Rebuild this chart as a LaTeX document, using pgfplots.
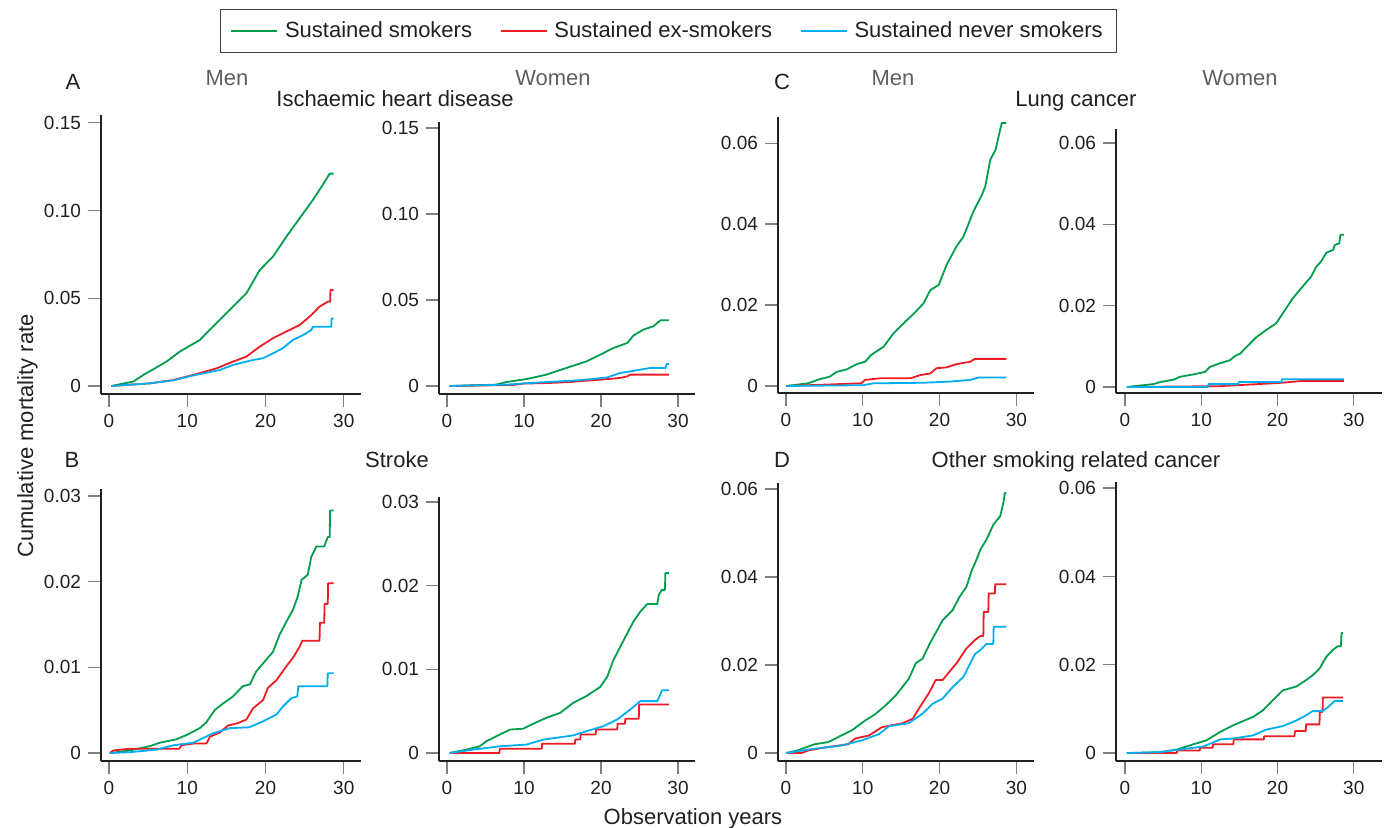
\documentclass[border=0pt]{standalone}
\usepackage{fontspec}
\setmainfont{Liberation Sans}
\usepackage{pgfplots}
\pgfplotsset{compat=1.18}

\definecolor{cg}{RGB}{0,157,78}
\definecolor{cr}{RGB}{237,28,36}
\definecolor{cb}{RGB}{0,174,239}
\definecolor{lbl}{RGB}{35,31,32}
\definecolor{sub}{RGB}{95,95,95}

\pgfplotsset{
  km/.style={
    scale only axis, axis lines*=left,
    axis line style={lbl, line width=0.7pt},
    tick align=outside, major tick length=6.5pt,
    tick style={gray, line width=0.7pt},
    xtick={0,10,20,30}, xticklabels={0,10,20,30},
    scaled y ticks=false, scaled x ticks=false,
    ticklabel style={font=\fontsize{9.5}{11}\selectfont, text=lbl},
    every axis plot/.append style={line width=0.9pt, line join=round},
  },
  p15/.style={ytick={0,0.05,0.10,0.15}, yticklabels={0,0.05,0.10,0.15}},
  p06/.style={ytick={0,0.02,0.04,0.06}, yticklabels={0,0.02,0.04,0.06}},
  p03/.style={ytick={0,0.01,0.02,0.03}, yticklabels={0,0.01,0.02,0.03}},
}

\begin{document}
\begin{tikzpicture}
\path[use as bounding box] (0pt,0pt) rectangle (694.5pt,-414pt);

% ---- A: ischaemic heart disease, men
\begin{axis}[km, p15, at={(50.5pt,-197pt)}, anchor=south west,
  width=130pt, height=139.5pt,
  xmin=-1.02, xmax=32.2, ymin=-0.00456, ymax=0.1544,
  legend columns=3,
  legend style={at={(axis description cs:0.4577,1.3799)}, anchor=north west,
    draw=darkgray, line width=0.6pt, inner xsep=5pt, inner ysep=4pt,
    font=\fontsize{11}{13}\selectfont, text=lbl,
    /tikz/every even column/.append style={column sep=12pt},
    /tikz/every odd column/.append style={column sep=1.5pt}},
  legend image code/.code={\draw[#1, line width=0.7pt] (0pt,0pt) -- (23pt,0pt);},
]
\addplot[cg] coordinates {(0.3,0)(3.1,0.0025)(4.4,0.0063)(5.65,0.0095)(7.35,0.0139)(9.05,0.0196)(11.6,0.0262)(13.7,0.0357)(15.85,0.0452)(17.55,0.0528)(19.25,0.066)(20.95,0.0737)(22.65,0.085)(24.35,0.0955)(26.05,0.106)(27.3,0.1145)(28.2,0.121)(28.7,0.121)};
\addlegendentry{Sustained smokers}
\addplot[cr] coordinates {(0.3,0)(5.2,0.0015)(8.2,0.0034)(10.75,0.0063)(13.7,0.010)(15.85,0.0139)(17.55,0.0167)(19.25,0.0224)(20.95,0.0272)(22.65,0.031)(24.35,0.0347)(25.85,0.0404)(26.9,0.0452)(27.95,0.048)(28.25,0.048)(28.3,0.0547)(28.7,0.0547)};
\addlegendentry{Sustained ex-smokers}
\addplot[cb] coordinates {(0.3,0)(5.2,0.0015)(8.2,0.0032)(10.75,0.006)(14.15,0.0091)(15.85,0.012)(18.4,0.0148)(19.7,0.0158)(20.95,0.0186)(22.2,0.0215)(23.5,0.0262)(24.8,0.029)(25.85,0.0319)(26.05,0.0338)(28.4,0.0338)(28.45,0.0385)(28.7,0.0385)};
\addlegendentry{Sustained never smokers}
\end{axis}

% ---- A: women
\begin{axis}[km, p15, at={(219.5pt,-197pt)}, anchor=south west,
  width=128pt, height=136pt,
  xmin=-1.04, xmax=32.2, ymin=-0.00465, ymax=0.1535]
\addplot[cg] coordinates {(0.35,0)(6.4,0.0008)(7.7,0.0023)(10.3,0.004)(12.9,0.0066)(15.5,0.0105)(18.1,0.0143)(19.9,0.0182)(21.6,0.0221)(23.4,0.025)(24.2,0.0293)(25.5,0.0328)(26.8,0.0347)(27.7,0.0382)(28.8,0.0382)};
\addplot[cr] coordinates {(0.35,0)(8.6,0.0006)(9.9,0.0014)(12.9,0.0017)(16,0.0023)(18.1,0.0031)(20.8,0.004)(22.5,0.0047)(23.4,0.0056)(23.8,0.0066)(28.8,0.0066)};
\addplot[cb] coordinates {(0.35,0)(7.7,0.0008)(12.1,0.0021)(16.4,0.0031)(19,0.0041)(20.8,0.005)(22.5,0.0076)(23.8,0.0085)(25.1,0.0095)(26.4,0.0105)(28.4,0.0105)(28.5,0.0128)(28.8,0.0128)};
\end{axis}

% ---- C: lung cancer, men
\begin{axis}[km, p06, at={(389pt,-196.5pt)}, anchor=south west,
  width=128pt, height=138pt,
  xmin=-1.04, xmax=32.3, ymin=-0.00173, ymax=0.0665]
\addplot[cg] coordinates {(0.04,0)(2.87,0.00066)(4.4,0.0017)(5.7,0.0023)(6.6,0.0035)(7.9,0.0041)(9.2,0.0054)(10.3,0.006)(11.1,0.0077)(12.7,0.0097)(14,0.013)(15.3,0.0155)(16.6,0.0178)(17.9,0.0204)(18.8,0.0237)(19.9,0.025)(20.9,0.0299)(22.2,0.0345)(23.1,0.0369)(23.8,0.0402)(24.4,0.0431)(25.5,0.0472)(25.95,0.0493)(26.6,0.0559)(27.3,0.0584)(27.7,0.0618)(28.1,0.065)(28.7,0.065)};
\addplot[cr] coordinates {(0.04,0)(7.4,0.0005)(9.8,0.00066)(10.3,0.0015)(12.2,0.0019)(16.2,0.0019)(17.5,0.0027)(18.8,0.0031)(19.6,0.0044)(20.9,0.0046)(22.2,0.0054)(24,0.006)(24.6,0.0067)(28.7,0.0067)};
\addplot[cb] coordinates {(0.04,0)(10,0.0002)(11.4,0.00066)(17.9,0.0008)(21.4,0.0011)(24,0.0015)(25.1,0.0021)(28.7,0.0021)};
\end{axis}

% ---- C: women
\begin{axis}[km, p06, at={(558pt,-196.5pt)}, anchor=south west,
  width=133pt, height=132pt,
  xmin=-1.18, xmax=33.7, ymin=-0.00148, ymax=0.0634]
\addplot[cg] coordinates {(0.26,0)(3.7,0.0007)(4.6,0.0012)(6.4,0.0018)(7.2,0.0025)(9,0.0031)(10.5,0.0037)(11.1,0.0049)(12.4,0.0058)(13.8,0.0066)(14.4,0.0076)(15.1,0.0082)(16.4,0.0107)(17.2,0.0122)(18.5,0.014)(19.8,0.0156)(20.7,0.0181)(22,0.0218)(23.3,0.0247)(24.4,0.0271)(25.1,0.0296)(25.7,0.0308)(26.4,0.033)(27.3,0.0337)(27.5,0.0349)(28.1,0.0353)(28.25,0.0374)(28.7,0.0374)};
\addplot[cr] coordinates {(0.26,0)(12.4,0.0002)(16.4,0.0006)(20.3,0.001)(23.3,0.0015)(28.7,0.0015)};
\addplot[cb] coordinates {(0.26,0)(10.9,0)(10.95,0.0007)(14.8,0.0007)(14.95,0.0012)(20.5,0.0012)(20.6,0.0019)(28.7,0.0019)};
\end{axis}

% ---- B: stroke, men
\begin{axis}[km, p03, at={(50.5pt,-380.5pt)}, anchor=south west,
  width=130pt, height=136pt,
  xmin=-1.02, xmax=32.2, ymin=-0.00093, ymax=0.0308]
\addplot[cg] coordinates {(0.1,0)(2.7,0.0003)(5.2,0.0008)(6.5,0.0012)(8.6,0.0016)(9.9,0.0021)(11.6,0.0029)(12.45,0.0036)(13.5,0.005)(14.6,0.0058)(15.85,0.0066)(17.1,0.0078)(18,0.008)(18.8,0.0095)(20.1,0.0109)(20.95,0.0118)(21.8,0.0138)(22.65,0.0153)(23.5,0.0167)(24.1,0.0182)(24.6,0.0202)(25.4,0.0208)(25.85,0.0229)(26.5,0.0241)(27.5,0.0241)(27.95,0.0252)(28.2,0.0252)(28.25,0.0283)(28.7,0.0283)};
\addplot[cr] coordinates {(0.1,0)(0.55,0.0003)(2.7,0.0005)(9,0.0005)(9.25,0.0009)(10.75,0.0011)(12.45,0.0011)(12.9,0.0019)(14.15,0.0024)(15.2,0.0032)(16.5,0.0035)(17.55,0.0039)(18.4,0.0052)(19.7,0.0062)(20.3,0.0076)(21.4,0.0085)(22.65,0.0101)(23.5,0.0111)(24.35,0.0124)(24.7,0.0131)(26.9,0.0131)(26.95,0.0152)(27.5,0.0152)(27.55,0.0174)(27.95,0.0174)(28.0,0.0198)(28.7,0.0198)};
\addplot[cb] coordinates {(0.1,0)(2.7,0.0001)(6.1,0.0004)(8.2,0.0009)(10.75,0.0012)(13.3,0.0023)(15.4,0.0029)(17.9,0.003)(19.7,0.0037)(21.4,0.0045)(22.2,0.0054)(23.3,0.0064)(24.05,0.0066)(24.2,0.0078)(27.9,0.0078)(27.95,0.0093)(28.7,0.0093)};
\end{axis}

% ---- B: women
\begin{axis}[km, p03, at={(219.5pt,-380.5pt)}, anchor=south west,
  width=128pt, height=132pt,
  xmin=-1.04, xmax=32.2, ymin=-0.00096, ymax=0.0306]
\addplot[cg] coordinates {(0.35,0)(2.5,0.0004)(4.25,0.0008)(5.1,0.0014)(6.4,0.002)(8.2,0.0028)(9.9,0.0029)(11.2,0.0035)(12.9,0.0042)(14.7,0.0048)(16.4,0.006)(18.1,0.0068)(19.9,0.0079)(20.8,0.0091)(21.6,0.0111)(22.5,0.0127)(23.4,0.0143)(24.2,0.0157)(25.1,0.0169)(26,0.0178)(27.3,0.0178)(27.5,0.0189)(27.9,0.0195)(28.3,0.0195)(28.35,0.0215)(28.8,0.0215)};
\addplot[cr] coordinates {(0.35,0)(6.8,0)(6.85,0.0005)(12.3,0.0005)(12.35,0.0011)(16.6,0.0011)(16.65,0.0016)(17.3,0.0016)(17.35,0.0022)(19.3,0.0022)(19.35,0.0028)(22.1,0.0028)(22.15,0.0035)(23.1,0.0035)(23.15,0.0041)(24.9,0.0041)(24.95,0.0058)(28.8,0.0058)};
\addplot[cb] coordinates {(0.35,0)(3.4,0.0004)(6.9,0.0008)(10.3,0.001)(12.5,0.0016)(16.4,0.0021)(18.1,0.0026)(20.3,0.0032)(22.1,0.004)(23.8,0.0052)(25.1,0.0062)(27.3,0.0062)(27.7,0.007)(27.9,0.0075)(28.8,0.0075)};
\end{axis}

% ---- D: other smoking related cancer, men
\begin{axis}[km, p06, at={(389pt,-380.5pt)}, anchor=south west,
  width=128pt, height=139pt,
  xmin=-1.04, xmax=32.3, ymin=-0.0018, ymax=0.0614]
\addplot[cg] coordinates {(0,0)(1.5,0.0006)(3.7,0.002)(5.5,0.0025)(7.2,0.004)(8.6,0.0052)(10.3,0.0074)(11.6,0.0088)(13,0.0109)(14.3,0.0131)(16,0.0169)(16.9,0.0204)(17.8,0.0215)(18.7,0.0248)(20.4,0.0302)(21.7,0.0325)(22.6,0.0355)(23.5,0.0378)(24.2,0.0416)(24.8,0.0439)(25.3,0.0462)(26.1,0.0485)(27,0.0519)(27.9,0.0539)(28.3,0.0568)(28.5,0.0591)(28.7,0.0591)};
\addplot[cr] coordinates {(0,0)(2,0)(2.9,0.0006)(5.5,0.0014)(8.1,0.002)(9,0.0033)(10.8,0.004)(12.5,0.0059)(15.2,0.0068)(16.5,0.0078)(17.3,0.0101)(18.7,0.0139)(19.5,0.0166)(20.4,0.0166)(21.1,0.0181)(22.2,0.0204)(23.5,0.0238)(24.6,0.0257)(25.3,0.0266)(25.7,0.0266)(25.75,0.0321)(26.35,0.0321)(26.4,0.0363)(27.2,0.0363)(27.25,0.0384)(28.7,0.0384)};
\addplot[cb] coordinates {(0,0)(3.7,0.001)(7.2,0.0017)(9.9,0.0029)(12.1,0.0043)(13.4,0.0061)(16,0.0068)(17.8,0.009)(19.1,0.0112)(20.4,0.0124)(21.7,0.015)(23.1,0.0173)(24,0.0204)(24.6,0.0225)(25.3,0.0234)(26.1,0.0248)(27,0.0248)(27.05,0.0287)(28.7,0.0287)};
\end{axis}

% ---- D: women
\begin{axis}[km, p06, at={(558pt,-380.5pt)}, anchor=south west,
  width=133pt, height=139.5pt,
  xmin=-1.18, xmax=33.7, ymin=-0.0018, ymax=0.0614]
\addplot[cg] coordinates {(0.26,0)(4.6,0.0002)(6.8,0.0008)(9,0.002)(10.7,0.0029)(12.5,0.0048)(14.2,0.0063)(16.8,0.0082)(18.1,0.0097)(19.4,0.012)(20.7,0.0142)(22.5,0.0151)(23.8,0.0166)(24.6,0.0176)(25.5,0.0191)(26.4,0.0218)(27.2,0.0233)(27.9,0.0242)(28.3,0.0242)(28.4,0.0272)(28.6,0.0272)};
\addplot[cr] coordinates {(0.26,0)(6.8,0)(6.85,0.0006)(9.8,0.0006)(9.85,0.0012)(11.5,0.0012)(11.55,0.002)(14.2,0.002)(14.25,0.0031)(18.2,0.0031)(18.25,0.0038)(22.2,0.0038)(22.3,0.005)(23.7,0.005)(23.75,0.0065)(25.5,0.0065)(25.55,0.0093)(25.9,0.0093)(25.95,0.0126)(28.6,0.0126)};
\addplot[cb] coordinates {(0.26,0)(4.6,0.0002)(8.1,0.001)(10.3,0.0015)(12.5,0.0031)(14.2,0.0033)(16.8,0.004)(18.5,0.0053)(20.7,0.0061)(22.5,0.0074)(23.8,0.0086)(24.6,0.0095)(25.9,0.0095)(26.6,0.0104)(27.5,0.0118)(28.6,0.0118)};
\end{axis}

% panel letters, titles, sub-headings and axis labels (positions in px/2)
\begin{scope}[every node/.style={font=\fontsize{11}{13}\selectfont, text=lbl, inner sep=0pt, anchor=base}]
\node at (36.5pt,-45pt) {A};
\node at (391pt,-45pt) {C};
\node at (36pt,-234pt) {B};
\node at (391pt,-234pt) {D};
\node[text=sub] at (113.5pt,-43pt) {Men};
\node[text=sub] at (276.5pt,-43pt) {Women};
\node[text=sub] at (446.5pt,-43pt) {Men};
\node[text=sub] at (620pt,-43pt) {Women};
\node at (197.5pt,-53.5pt) {Ischaemic heart disease};
\node at (538pt,-53.5pt) {Lung cancer};
\node at (198.5pt,-234pt) {Stroke};
\node at (538pt,-234pt) {Other smoking related cancer};
\node at (346.5pt,-412.5pt) {Observation years};
\node[rotate=90] at (16.5pt,-218pt) {Cumulative mortality rate};
\end{scope}
\end{tikzpicture}
\end{document}
